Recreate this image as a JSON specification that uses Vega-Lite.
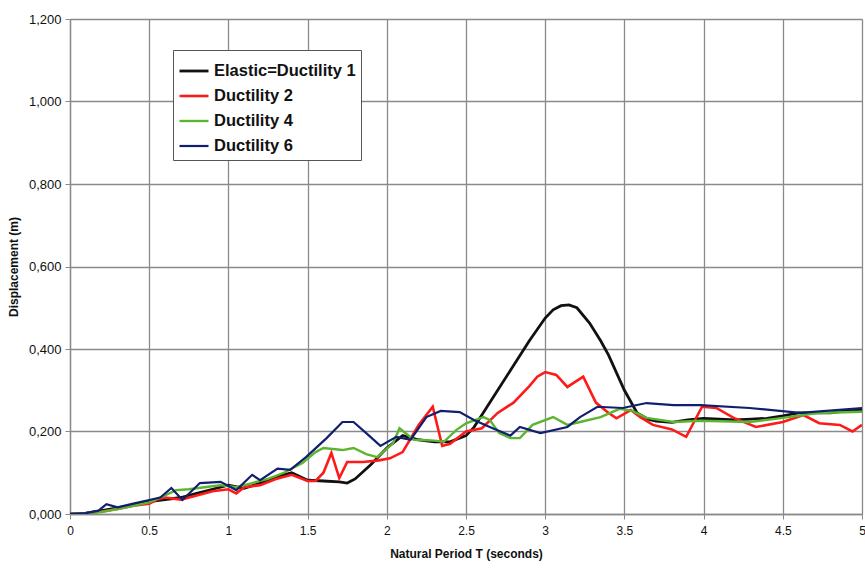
{
  "$schema": "https://vega.github.io/schema/vega-lite/v6.json",
  "width": 792,
  "height": 495,
  "autosize": {"type": "none"},
  "padding": {"left": 70, "top": 19, "right": 3, "bottom": 55},
  "background": "white",
  "config": {
    "view": {"stroke": null},
    "font": "Liberation Sans"
  },
  "datasets": {
    "d": [
      {"series": "Elastic=Ductility 1", "T": 0, "D": 0},
      {"series": "Elastic=Ductility 1", "T": 0.1, "D": 0.002},
      {"series": "Elastic=Ductility 1", "T": 0.2, "D": 0.008},
      {"series": "Elastic=Ductility 1", "T": 0.3, "D": 0.015},
      {"series": "Elastic=Ductility 1", "T": 0.4, "D": 0.022},
      {"series": "Elastic=Ductility 1", "T": 0.5, "D": 0.03},
      {"series": "Elastic=Ductility 1", "T": 0.6, "D": 0.035},
      {"series": "Elastic=Ductility 1", "T": 0.7, "D": 0.04},
      {"series": "Elastic=Ductility 1", "T": 0.8, "D": 0.05},
      {"series": "Elastic=Ductility 1", "T": 0.9, "D": 0.06},
      {"series": "Elastic=Ductility 1", "T": 1.0, "D": 0.07},
      {"series": "Elastic=Ductility 1", "T": 1.1, "D": 0.062},
      {"series": "Elastic=Ductility 1", "T": 1.2, "D": 0.075},
      {"series": "Elastic=Ductility 1", "T": 1.3, "D": 0.09},
      {"series": "Elastic=Ductility 1", "T": 1.4, "D": 0.1},
      {"series": "Elastic=Ductility 1", "T": 1.5, "D": 0.082},
      {"series": "Elastic=Ductility 1", "T": 1.6, "D": 0.08},
      {"series": "Elastic=Ductility 1", "T": 1.7, "D": 0.078},
      {"series": "Elastic=Ductility 1", "T": 1.75, "D": 0.075},
      {"series": "Elastic=Ductility 1", "T": 1.8, "D": 0.085},
      {"series": "Elastic=Ductility 1", "T": 1.9, "D": 0.12},
      {"series": "Elastic=Ductility 1", "T": 2.0, "D": 0.16},
      {"series": "Elastic=Ductility 1", "T": 2.1, "D": 0.19},
      {"series": "Elastic=Ductility 1", "T": 2.2, "D": 0.18},
      {"series": "Elastic=Ductility 1", "T": 2.3, "D": 0.175},
      {"series": "Elastic=Ductility 1", "T": 2.4, "D": 0.175},
      {"series": "Elastic=Ductility 1", "T": 2.5, "D": 0.19},
      {"series": "Elastic=Ductility 1", "T": 2.55, "D": 0.21},
      {"series": "Elastic=Ductility 1", "T": 2.6, "D": 0.24},
      {"series": "Elastic=Ductility 1", "T": 2.7, "D": 0.3},
      {"series": "Elastic=Ductility 1", "T": 2.8, "D": 0.36},
      {"series": "Elastic=Ductility 1", "T": 2.9, "D": 0.42},
      {"series": "Elastic=Ductility 1", "T": 3.0, "D": 0.475},
      {"series": "Elastic=Ductility 1", "T": 3.05, "D": 0.495},
      {"series": "Elastic=Ductility 1", "T": 3.1, "D": 0.505},
      {"series": "Elastic=Ductility 1", "T": 3.15, "D": 0.507},
      {"series": "Elastic=Ductility 1", "T": 3.2, "D": 0.5},
      {"series": "Elastic=Ductility 1", "T": 3.28, "D": 0.463},
      {"series": "Elastic=Ductility 1", "T": 3.35, "D": 0.42},
      {"series": "Elastic=Ductility 1", "T": 3.4, "D": 0.385},
      {"series": "Elastic=Ductility 1", "T": 3.5, "D": 0.3},
      {"series": "Elastic=Ductility 1", "T": 3.58, "D": 0.245},
      {"series": "Elastic=Ductility 1", "T": 3.65, "D": 0.23},
      {"series": "Elastic=Ductility 1", "T": 3.7, "D": 0.225},
      {"series": "Elastic=Ductility 1", "T": 3.8, "D": 0.222},
      {"series": "Elastic=Ductility 1", "T": 3.9, "D": 0.228},
      {"series": "Elastic=Ductility 1", "T": 4.0, "D": 0.232},
      {"series": "Elastic=Ductility 1", "T": 4.1, "D": 0.23},
      {"series": "Elastic=Ductility 1", "T": 4.2, "D": 0.228},
      {"series": "Elastic=Ductility 1", "T": 4.3, "D": 0.23},
      {"series": "Elastic=Ductility 1", "T": 4.4, "D": 0.232},
      {"series": "Elastic=Ductility 1", "T": 4.5, "D": 0.238},
      {"series": "Elastic=Ductility 1", "T": 4.6, "D": 0.245},
      {"series": "Elastic=Ductility 1", "T": 4.7, "D": 0.245},
      {"series": "Elastic=Ductility 1", "T": 4.8, "D": 0.245},
      {"series": "Elastic=Ductility 1", "T": 4.9, "D": 0.25},
      {"series": "Elastic=Ductility 1", "T": 5.0, "D": 0.252},

      {"series": "Ductility 2", "T": 0, "D": 0},
      {"series": "Ductility 2", "T": 0.1, "D": 0.002},
      {"series": "Ductility 2", "T": 0.2, "D": 0.006},
      {"series": "Ductility 2", "T": 0.3, "D": 0.012},
      {"series": "Ductility 2", "T": 0.4, "D": 0.02},
      {"series": "Ductility 2", "T": 0.5, "D": 0.025},
      {"series": "Ductility 2", "T": 0.55, "D": 0.035},
      {"series": "Ductility 2", "T": 0.6, "D": 0.04},
      {"series": "Ductility 2", "T": 0.7, "D": 0.035},
      {"series": "Ductility 2", "T": 0.8, "D": 0.045},
      {"series": "Ductility 2", "T": 0.9, "D": 0.055},
      {"series": "Ductility 2", "T": 1.0, "D": 0.06},
      {"series": "Ductility 2", "T": 1.05, "D": 0.05},
      {"series": "Ductility 2", "T": 1.1, "D": 0.065},
      {"series": "Ductility 2", "T": 1.2, "D": 0.07},
      {"series": "Ductility 2", "T": 1.3, "D": 0.085},
      {"series": "Ductility 2", "T": 1.4, "D": 0.095},
      {"series": "Ductility 2", "T": 1.5, "D": 0.08},
      {"series": "Ductility 2", "T": 1.55, "D": 0.08},
      {"series": "Ductility 2", "T": 1.6, "D": 0.1},
      {"series": "Ductility 2", "T": 1.65, "D": 0.148},
      {"series": "Ductility 2", "T": 1.7, "D": 0.087},
      {"series": "Ductility 2", "T": 1.75, "D": 0.126},
      {"series": "Ductility 2", "T": 1.85, "D": 0.126},
      {"series": "Ductility 2", "T": 1.95, "D": 0.13},
      {"series": "Ductility 2", "T": 2.02, "D": 0.135},
      {"series": "Ductility 2", "T": 2.1, "D": 0.15},
      {"series": "Ductility 2", "T": 2.2, "D": 0.215},
      {"series": "Ductility 2", "T": 2.29, "D": 0.26},
      {"series": "Ductility 2", "T": 2.35, "D": 0.165},
      {"series": "Ductility 2", "T": 2.4, "D": 0.17},
      {"series": "Ductility 2", "T": 2.5, "D": 0.2},
      {"series": "Ductility 2", "T": 2.6, "D": 0.208},
      {"series": "Ductility 2", "T": 2.7, "D": 0.245},
      {"series": "Ductility 2", "T": 2.8, "D": 0.27},
      {"series": "Ductility 2", "T": 2.9, "D": 0.31},
      {"series": "Ductility 2", "T": 2.95, "D": 0.333},
      {"series": "Ductility 2", "T": 3.0, "D": 0.344},
      {"series": "Ductility 2", "T": 3.07, "D": 0.337},
      {"series": "Ductility 2", "T": 3.14, "D": 0.308},
      {"series": "Ductility 2", "T": 3.24, "D": 0.333},
      {"series": "Ductility 2", "T": 3.32, "D": 0.27},
      {"series": "Ductility 2", "T": 3.4, "D": 0.245},
      {"series": "Ductility 2", "T": 3.45, "D": 0.232},
      {"series": "Ductility 2", "T": 3.54, "D": 0.252},
      {"series": "Ductility 2", "T": 3.6, "D": 0.235},
      {"series": "Ductility 2", "T": 3.68, "D": 0.216},
      {"series": "Ductility 2", "T": 3.8, "D": 0.205},
      {"series": "Ductility 2", "T": 3.89, "D": 0.187},
      {"series": "Ductility 2", "T": 3.99, "D": 0.26},
      {"series": "Ductility 2", "T": 4.08, "D": 0.257},
      {"series": "Ductility 2", "T": 4.19, "D": 0.233},
      {"series": "Ductility 2", "T": 4.33, "D": 0.211},
      {"series": "Ductility 2", "T": 4.5, "D": 0.223},
      {"series": "Ductility 2", "T": 4.63, "D": 0.24},
      {"series": "Ductility 2", "T": 4.73, "D": 0.22},
      {"series": "Ductility 2", "T": 4.86, "D": 0.216},
      {"series": "Ductility 2", "T": 4.94, "D": 0.2},
      {"series": "Ductility 2", "T": 5.0, "D": 0.216},

      {"series": "Ductility 4", "T": 0, "D": 0},
      {"series": "Ductility 4", "T": 0.1, "D": 0.002},
      {"series": "Ductility 4", "T": 0.2, "D": 0.005},
      {"series": "Ductility 4", "T": 0.3, "D": 0.012},
      {"series": "Ductility 4", "T": 0.4, "D": 0.02},
      {"series": "Ductility 4", "T": 0.5, "D": 0.028},
      {"series": "Ductility 4", "T": 0.6, "D": 0.045},
      {"series": "Ductility 4", "T": 0.67, "D": 0.058},
      {"series": "Ductility 4", "T": 0.75, "D": 0.06},
      {"series": "Ductility 4", "T": 0.85, "D": 0.065},
      {"series": "Ductility 4", "T": 0.95, "D": 0.07},
      {"series": "Ductility 4", "T": 1.05, "D": 0.065},
      {"series": "Ductility 4", "T": 1.15, "D": 0.075},
      {"series": "Ductility 4", "T": 1.25, "D": 0.085},
      {"series": "Ductility 4", "T": 1.35, "D": 0.1},
      {"series": "Ductility 4", "T": 1.47, "D": 0.124},
      {"series": "Ductility 4", "T": 1.55, "D": 0.15},
      {"series": "Ductility 4", "T": 1.6, "D": 0.16},
      {"series": "Ductility 4", "T": 1.72, "D": 0.155},
      {"series": "Ductility 4", "T": 1.79, "D": 0.16},
      {"series": "Ductility 4", "T": 1.87, "D": 0.145},
      {"series": "Ductility 4", "T": 1.94, "D": 0.138},
      {"series": "Ductility 4", "T": 2.04, "D": 0.172},
      {"series": "Ductility 4", "T": 2.08, "D": 0.208},
      {"series": "Ductility 4", "T": 2.17, "D": 0.18},
      {"series": "Ductility 4", "T": 2.3, "D": 0.178},
      {"series": "Ductility 4", "T": 2.36, "D": 0.175},
      {"series": "Ductility 4", "T": 2.44, "D": 0.204},
      {"series": "Ductility 4", "T": 2.5, "D": 0.22},
      {"series": "Ductility 4", "T": 2.61, "D": 0.235},
      {"series": "Ductility 4", "T": 2.65, "D": 0.228},
      {"series": "Ductility 4", "T": 2.71, "D": 0.196},
      {"series": "Ductility 4", "T": 2.78, "D": 0.184},
      {"series": "Ductility 4", "T": 2.84, "D": 0.184},
      {"series": "Ductility 4", "T": 2.92, "D": 0.216},
      {"series": "Ductility 4", "T": 3.05, "D": 0.235},
      {"series": "Ductility 4", "T": 3.14, "D": 0.216},
      {"series": "Ductility 4", "T": 3.22, "D": 0.223},
      {"series": "Ductility 4", "T": 3.35, "D": 0.235},
      {"series": "Ductility 4", "T": 3.47, "D": 0.255},
      {"series": "Ductility 4", "T": 3.55, "D": 0.25},
      {"series": "Ductility 4", "T": 3.64, "D": 0.233},
      {"series": "Ductility 4", "T": 3.81, "D": 0.223},
      {"series": "Ductility 4", "T": 3.98, "D": 0.226},
      {"series": "Ductility 4", "T": 4.29, "D": 0.223},
      {"series": "Ductility 4", "T": 4.5, "D": 0.233},
      {"series": "Ductility 4", "T": 4.72, "D": 0.245},
      {"series": "Ductility 4", "T": 5.0, "D": 0.248},

      {"series": "Ductility 6", "T": 0, "D": 0},
      {"series": "Ductility 6", "T": 0.1, "D": 0.002},
      {"series": "Ductility 6", "T": 0.18, "D": 0.008},
      {"series": "Ductility 6", "T": 0.23, "D": 0.024},
      {"series": "Ductility 6", "T": 0.3, "D": 0.016},
      {"series": "Ductility 6", "T": 0.4, "D": 0.025},
      {"series": "Ductility 6", "T": 0.5, "D": 0.034},
      {"series": "Ductility 6", "T": 0.57, "D": 0.04},
      {"series": "Ductility 6", "T": 0.64, "D": 0.063},
      {"series": "Ductility 6", "T": 0.71, "D": 0.034},
      {"series": "Ductility 6", "T": 0.82, "D": 0.075},
      {"series": "Ductility 6", "T": 0.95, "D": 0.078},
      {"series": "Ductility 6", "T": 1.05, "D": 0.058},
      {"series": "Ductility 6", "T": 1.15, "D": 0.095},
      {"series": "Ductility 6", "T": 1.2, "D": 0.082},
      {"series": "Ductility 6", "T": 1.31, "D": 0.11},
      {"series": "Ductility 6", "T": 1.39, "D": 0.107},
      {"series": "Ductility 6", "T": 1.49, "D": 0.138},
      {"series": "Ductility 6", "T": 1.62, "D": 0.184},
      {"series": "Ductility 6", "T": 1.72, "D": 0.223},
      {"series": "Ductility 6", "T": 1.79, "D": 0.223},
      {"series": "Ductility 6", "T": 1.87, "D": 0.196},
      {"series": "Ductility 6", "T": 1.96, "D": 0.165},
      {"series": "Ductility 6", "T": 2.06, "D": 0.187},
      {"series": "Ductility 6", "T": 2.15, "D": 0.18},
      {"series": "Ductility 6", "T": 2.25, "D": 0.235},
      {"series": "Ductility 6", "T": 2.34, "D": 0.25},
      {"series": "Ductility 6", "T": 2.46, "D": 0.247},
      {"series": "Ductility 6", "T": 2.55, "D": 0.228},
      {"series": "Ductility 6", "T": 2.65, "D": 0.211},
      {"series": "Ductility 6", "T": 2.78, "D": 0.19},
      {"series": "Ductility 6", "T": 2.84, "D": 0.211},
      {"series": "Ductility 6", "T": 2.97, "D": 0.196},
      {"series": "Ductility 6", "T": 3.14, "D": 0.211},
      {"series": "Ductility 6", "T": 3.22, "D": 0.235},
      {"series": "Ductility 6", "T": 3.33, "D": 0.26},
      {"series": "Ductility 6", "T": 3.49, "D": 0.257},
      {"series": "Ductility 6", "T": 3.64, "D": 0.269},
      {"series": "Ductility 6", "T": 3.81, "D": 0.264},
      {"series": "Ductility 6", "T": 3.98, "D": 0.264},
      {"series": "Ductility 6", "T": 4.29, "D": 0.257},
      {"series": "Ductility 6", "T": 4.61, "D": 0.245},
      {"series": "Ductility 6", "T": 5.0, "D": 0.257}
    ]
  },
  "data": {"name": "d"},
  "mark": {"type": "line", "clip": true},
  "encoding": {
    "x": {
      "field": "T",
      "type": "quantitative",
      "scale": {"domain": [0, 5], "nice": false},
      "axis": {
        "values": [0, 0.5, 1, 1.5, 2, 2.5, 3, 3.5, 4, 4.5, 5],
        "labelExpr": "format(datum.value, '~g')",
        "title": "Natural Period T (seconds)",
        "titleFont": "Liberation Sans",
        "titleFontSize": 12,
        "titleFontWeight": "bold",
        "titleColor": "#111",
        "titlePadding": 12,
        "labelFont": "Liberation Sans",
        "labelFontSize": 12,
        "labelColor": "#111",
        "labelPadding": 6,
        "grid": true,
        "gridColor": "#8a8a8a",
        "gridWidth": 1.3,
        "domainColor": "#8a8a8a",
        "domainWidth": 1.3,
        "tickColor": "#8a8a8a",
        "tickSize": 5,
        "labelFlush": false,
        "labelOverlap": false
      }
    },
    "y": {
      "field": "D",
      "type": "quantitative",
      "scale": {"domain": [0, 1.2], "nice": false},
      "axis": {
        "values": [0, 0.2, 0.4, 0.6, 0.8, 1.0, 1.2],
        "labelExpr": "replace(format(datum.value, '.3f'), '.', ',')",
        "title": "Displacement (m)",
        "titleFont": "Liberation Sans",
        "titleFontSize": 12,
        "titleFontWeight": "bold",
        "titleColor": "#111",
        "titlePadding": 8,
        "labelFont": "Liberation Sans",
        "labelFontSize": 13,
        "labelColor": "#111",
        "labelPadding": 4,
        "grid": true,
        "gridColor": "#8a8a8a",
        "gridWidth": 1.3,
        "domainColor": "#8a8a8a",
        "domainWidth": 1.3,
        "tickColor": "#8a8a8a",
        "tickSize": 5,
        "labelFlush": false
      }
    },
    "color": {
      "field": "series",
      "type": "nominal",
      "scale": {
        "domain": ["Elastic=Ductility 1", "Ductility 2", "Ductility 4", "Ductility 6"],
        "range": ["#111111", "#ff1a1a", "#5cb531", "#10206e"]
      },
      "legend": {
        "title": null,
        "orient": "none",
        "legendX": 103,
        "legendY": 31,
        "fillColor": "white",
        "strokeColor": "#555555",
        "padding": 5,
        "symbolType": "stroke",
        "symbolSize": 841,
        "symbolStrokeWidth": 2.5,
        "labelFont": "Liberation Sans",
        "labelFontSize": 16.5,
        "labelFontWeight": "bold",
        "labelColor": "#111",
        "labelOffset": 4,
        "rowPadding": -5
      }
    },
    "strokeWidth": {
      "field": "series",
      "type": "nominal",
      "scale": {
        "domain": ["Elastic=Ductility 1", "Ductility 2", "Ductility 4", "Ductility 6"],
        "range": [2.8, 2.2, 1.6, 2.6]
      },
      "legend": null
    },
    "order": {"field": "T", "type": "quantitative"}
  }
}
